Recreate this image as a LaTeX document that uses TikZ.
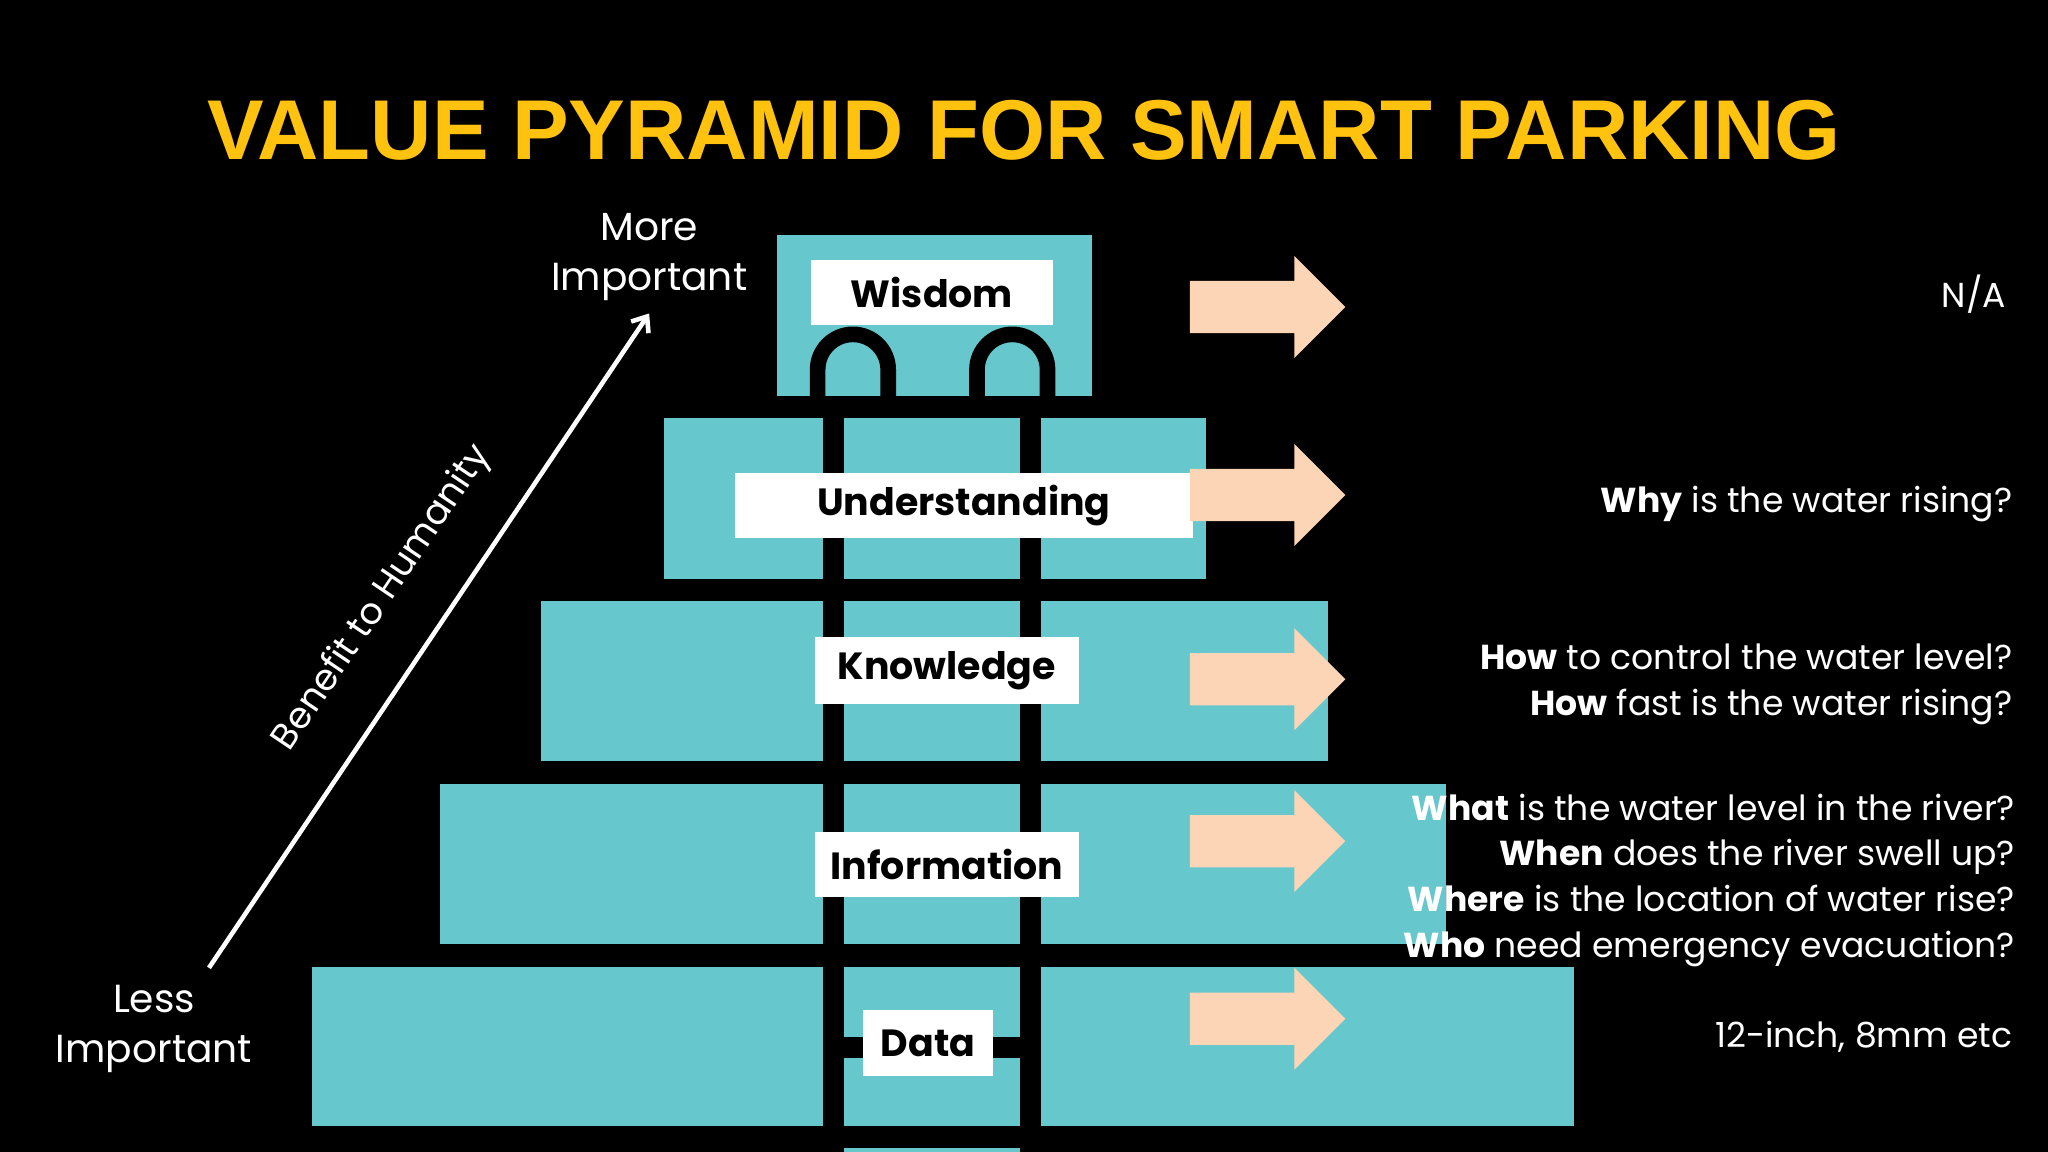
\documentclass[tikz,border=0pt]{standalone}
\usepackage{fontspec}
\setmainfont{Poppins}
\newfontfamily\titlefont{Liberation Sans}
\usetikzlibrary{arrows.meta}
\definecolor{teal}{HTML}{66C8CC}
\definecolor{peach}{HTML}{FBD5B5}
\definecolor{gold}{HTML}{FFC20E}
\tikzset{
  blk/.style={fill=teal,draw=none},
  lbl/.style={fill=white,text=black,font=\fontsize{29}{30}\selectfont\bfseries,inner sep=0pt,anchor=center},
  rt/.style={text=white,font=\fontsize{26.5}{35}\selectfont,align=right,anchor=east,inner sep=0pt},
  side/.style={text=white,font=\fontsize{30}{38}\selectfont,align=center,inner sep=0pt},
}
\newcommand{\parrow}[1]{\fill[peach] (911,#1-20) -- (991,#1-20) -- (991,#1-39) -- (1030,#1) -- (991,#1+39) -- (991,#1+20) -- (911,#1+20) -- cycle;}
\begin{document}
\begin{tikzpicture}[x=1pt,y=-1pt]
\fill[black] (0,0) rectangle (1568,882);
\useasboundingbox (0,0) rectangle (1568,882);
\node[text=gold,font=\titlefont\fontsize{65}{70}\selectfont\bfseries] (title) at (784,100) {VALUE PYRAMID FOR SMART PARKING};
% pyramid
\fill[blk] (595,180) rectangle (836,303);
\foreach \cx in {653,775}{
  \draw[black,line width=12pt] (\cx-27,304) -- (\cx-27,283) arc (180:360:27) -- (\cx+27,304);
}
\fill[blk] (508,320) rectangle (630,443);
\fill[blk] (646,320) rectangle (781,443);
\fill[blk] (797,320) rectangle (923,443);
\fill[blk] (414,460) rectangle (630,583);
\fill[blk] (646,460) rectangle (781,583);
\fill[blk] (797,460) rectangle (1017,583);
\fill[blk] (337,600) rectangle (630,723);
\fill[blk] (646,600) rectangle (781,723);
\fill[blk] (797,600) rectangle (1107,723);
\fill[blk] (239,740) rectangle (630,862);
\fill[blk] (646,740) rectangle (781,794);
\fill[blk] (646,810) rectangle (781,862);
\fill[blk] (797,740) rectangle (1205,862);
\fill[blk] (646,879) rectangle (781,882);
% labels
\node[lbl,minimum width=185,minimum height=50] (wis) at (713.5,224) {Wisdom};
\node[lbl,minimum width=350,minimum height=50] (und) at (738,387) {Understanding};
\node[lbl,minimum width=202,minimum height=51] (kno) at (725,513.5) {Knowledge};
\node[lbl,minimum width=202,minimum height=50] (inf) at (725,662) {Information};
\node[lbl,minimum width=99,minimum height=51] (dat) at (710.5,798.5) {Data};
% arrows
\parrow{235}
\parrow{379}
\parrow{520}
\parrow{644}
\parrow{780}
% right texts
\node[rt] (t1) at (1536,225) {N/A};
\node[rt] (t2) at (1541,386) {\textbf{Why} is the water rising?};
\node[rt] (t3) at (1541,524) {\textbf{How} to control the water level?\\\textbf{How} fast is the water rising?};
\node[rt] (t4) at (1543,674) {\textbf{What} is the water level in the river?\\\textbf{When} does the river swell up?\\\textbf{Where} is the location of water rise?\\\textbf{Who} need emergency evacuation?};
\node[rt] (t5) at (1541,794) {12-inch, 8mm etc};
% side
\node[side] (more) at (497,197) {More\\Important};
\node[side] (less) at (118,788) {Less\\Important};
\coordinate (a0) at (160,741);
\coordinate (a1) at (497,240);
\draw[white,line width=3.5pt,-{Straight Barb[length=10pt,width=16pt,line width=3.5pt]}] (a0) -- (a1);
\node[side,rotate=56,font=\fontsize{28}{30}\selectfont] (ben) at (293,458) {Benefit to Humanity};
\end{tikzpicture}
\end{document}
